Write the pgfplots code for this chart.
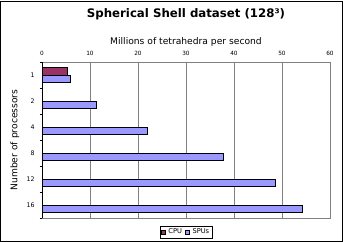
\documentclass[border=0pt]{standalone}
\usepackage{pgfplots}
\pgfplotsset{compat=1.18}
\usepackage{fontspec}
\setmainfont{DejaVu Sans}
\definecolor{cpucol}{HTML}{993366}
\definecolor{spucol}{HTML}{9999FF}
\definecolor{gridcol}{HTML}{808080}

\begin{document}
\begin{tikzpicture}
% outer chart frame and page size
\useasboundingbox (-42bp,-24bp) rectangle (302bp,218bp);
\draw[black, line width=0.8bp] (-41.2bp,-23.2bp) rectangle (300.6bp,216.4bp);
\begin{axis}[
  at={(0,0)}, anchor=south west,
  scale only axis, width=288bp, height=156bp,
  xbar, bar width=7.4bp,
  xmin=0, xmax=60,
  ymin=-0.5, ymax=5.5,
  xtick={0,10,...,60},
  xticklabel pos=top,
  xtick style={draw=none},
  xticklabel style={font=\fontsize{5.8}{6}\selectfont, yshift=-1.5bp},
  /pgf/number format/assume math mode=true,
  ytick={0,...,5},
  ytick pos=left,
  yticklabels={16,12,8,4,2,1},
  yticklabel style={font=\fontsize{6.3}{7}\selectfont, xshift=0.5bp},
  major y tick style={draw=none},
  minor ytick={-0.5,0.5,...,5.5},
  minor y tick style={black, line width=0.6bp},
  minor tick length=2.5bp,
  tick align=outside,
  xmajorgrids, grid style={gridcol, line width=0.8bp},
  axis line style={gridcol, line width=0.8bp},
  title={\textbf{Spherical Shell dataset (128³)}},
  title style={font=\fontsize{11.8}{13}\selectfont, at={(axis description cs:0.5,1)}, anchor=center, yshift=42bp},
  xlabel={Millions of tetrahedra per second},
  xlabel style={font=\fontsize{9.2}{10}\selectfont, at={(axis description cs:0.5,1)}, anchor=center, yshift=20bp},
  ylabel={Number of processors},
  ylabel style={font=\fontsize{9.2}{10}\selectfont, at={(axis description cs:-0.094,0.5)}, anchor=center},
  legend columns=2,
  legend style={at={(axis description cs:0.5,0)}, anchor=center, yshift=-14bp,
    draw=black, line width=0.6bp, font=\fontsize{6.7}{7}\selectfont,
    inner sep=0.8bp, column sep=1pt},
  legend image code/.code={\draw[#1, line width=0.4bp] (0bp,-2bp) rectangle (4.2bp,2.2bp);},
]
\addplot[draw=black, fill=cpucol, line width=0.6bp, bar shift=3.7bp]
  coordinates {(5.2,5)};
\addplot[draw=black, fill=spucol, line width=0.6bp, bar shift=-3.7bp]
  coordinates {(5.8,5) (11.4,4) (22.0,3) (37.8,2) (48.5,1) (54.2,0)};
\legend{CPU, SPUs}
\draw[black, line width=0.8bp] (axis cs:0,-0.5) -- (axis cs:0,5.5);
\end{axis}
\end{tikzpicture}
\end{document}
